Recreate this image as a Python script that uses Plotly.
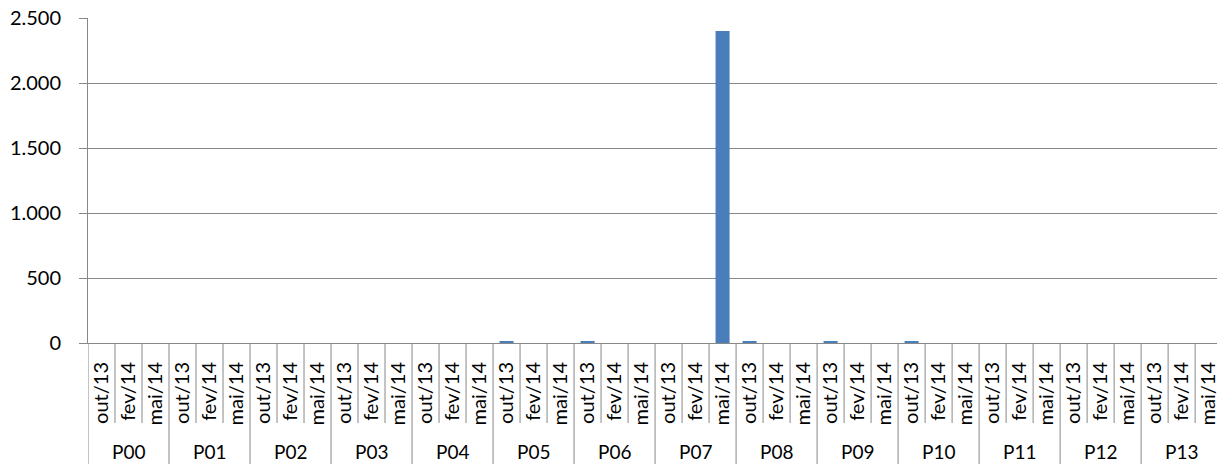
import plotly.graph_objects as go

groups = ["P00", "P01", "P02", "P03", "P04", "P05", "P06", "P07", "P08", "P09", "P10", "P11", "P12", "P13"]
periods = ["out/13", "fev/14", "mai/14"]
values = {
    "P00": [0, 0, 0],
    "P01": [0, 0, 0],
    "P02": [0, 0, 0],
    "P03": [0, 0, 0],
    "P04": [0, 0, 0],
    "P05": [12, 0, 0],
    "P06": [12, 0, 0],
    "P07": [0, 0, 2400],
    "P08": [12, 0, 0],
    "P09": [12, 0, 0],
    "P10": [12, 0, 0],
    "P11": [0, 0, 0],
    "P12": [0, 0, 0],
    "P13": [0, 0, 0],
}

xpos, xlab, yv = [], [], []
group_centers = []
i = 0
for g in groups:
    start = i
    for p, v in zip(periods, values[g]):
        xpos.append(i)
        xlab.append(p)
        yv.append(v)
        i += 1
    group_centers.append((start + i - 1) / 2)
n = len(xpos)
per = len(periods)

font = "Lato, Open Sans, sans-serif"
grid = "#888888"

fig = go.Figure(go.Bar(
    x=xpos, y=yv,
    marker=dict(color="#4A7EBB", line=dict(width=0)),
    width=0.52,
))

# category dividers below the axis
shapes = []
for b in range(n + 1):
    is_group = (b % per == 0)
    shapes.append(dict(
        type="line", xref="x", yref="paper",
        ysizemode="pixel", yanchor=0,
        x0=b - 0.5, x1=b - 0.5, y0=0, y1=-121 if is_group else -80,
        line=dict(color=grid, width=1),
    ))

annotations = [
    dict(x=c, y=0, xref="x", yref="paper", text=g, showarrow=False,
         yanchor="middle", yshift=-108, font=dict(size=19, family=font, color="#000"))
    for g, c in zip(groups, group_centers)
]

fig.update_layout(
    width=1217, height=464,
    margin=dict(l=88, r=0, t=18, b=121, autoexpand=False),
    paper_bgcolor="white", plot_bgcolor="white",
    separators=",.",
    showlegend=False,
    font=dict(family=font, size=19, color="#000000"),
    shapes=shapes,
    annotations=annotations,
)
fig.update_xaxes(
    range=[-0.5, 41.31],
    automargin=False,
    tickmode="array", tickvals=xpos, ticktext=xlab,
    tickangle=-90,
    ticks="", ticklabelstandoff=10,
    ticklabeloverflow="allow",
    showline=True, linecolor=grid, linewidth=1,
    tickfont=dict(size=20, family=font, color="#000"),
    showgrid=False, zeroline=False,
)
fig.update_yaxes(
    range=[0, 2500], dtick=500, tickformat=",d",
    automargin=False,
    showline=True, linecolor=grid, linewidth=1,
    ticks="outside", ticklen=8, tickcolor=grid,
    ticklabelstandoff=14,
    showgrid=True, gridcolor=grid, gridwidth=1,
    zeroline=False,
    tickfont=dict(size=20, family=font, color="#000"),
)
fig.write_html(
    "out.html",
    config={"displayModeBar": False},
    post_script="document.body.style.margin='0';document.body.style.overflow='hidden';",
)
